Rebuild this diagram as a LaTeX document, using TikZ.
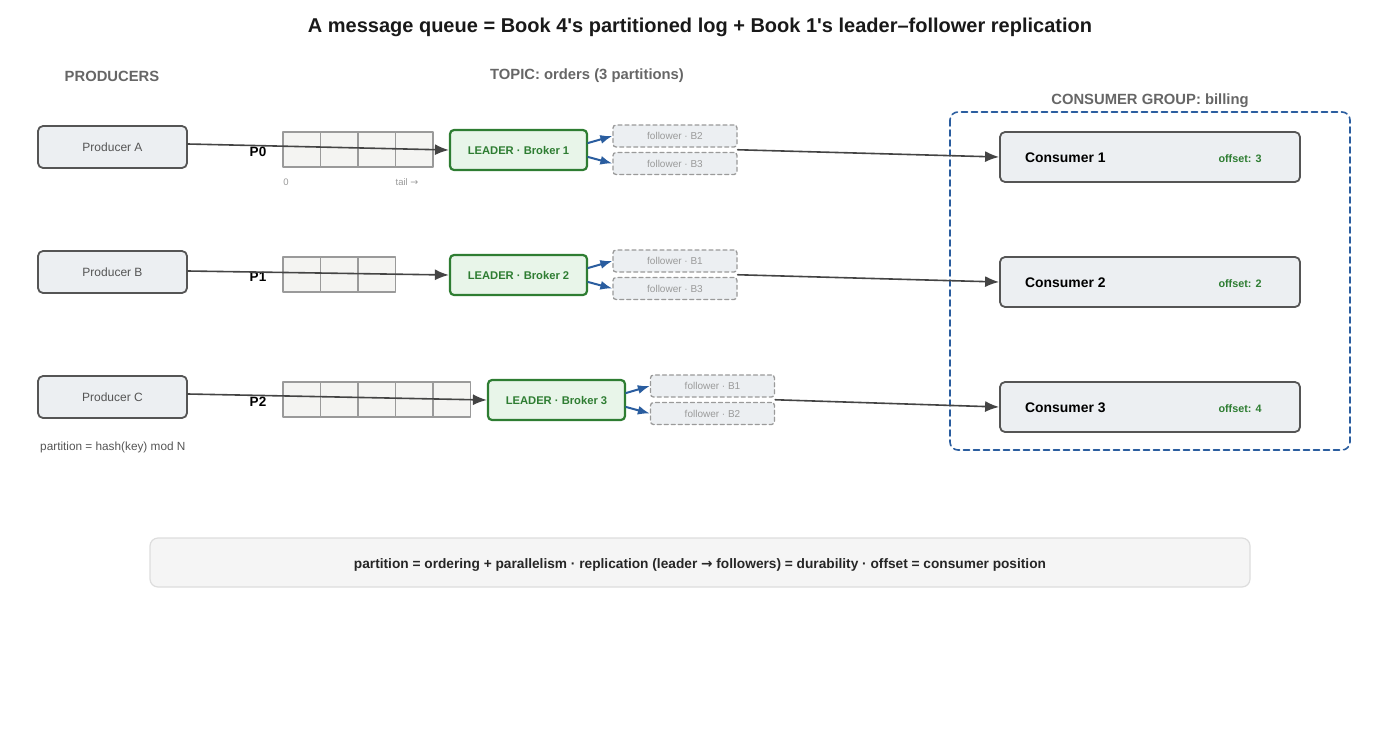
\documentclass[tikz,border=0pt]{standalone}
\usepackage{fontspec}
\setmainfont{Liberation Sans}[Ligatures=TeXOff]
\newfontfamily\symfont{DejaVu Sans}
\newcommand{\rarr}{{\symfont →}}
\usetikzlibrary{arrows.meta,calc}

\definecolor{boxgray}{HTML}{ECEFF2}
\definecolor{edgegray}{HTML}{555555}
\definecolor{labelgray}{HTML}{666666}
\definecolor{faintgray}{HTML}{9A9A9A}
\definecolor{cellfill}{HTML}{F4F4F2}
\definecolor{leadgreen}{HTML}{2E7D32}
\definecolor{leadfill}{HTML}{E8F5E9}
\definecolor{repblue}{HTML}{2A5D9F}
\definecolor{feedgray}{HTML}{444444}
\definecolor{notefill}{HTML}{F5F5F5}
\definecolor{noteedge}{HTML}{DDDDDD}

\begin{document}
\begin{tikzpicture}[x=1pt,y=-1pt,line cap=round,line join=round,
    producer/.style={draw=edgegray,fill=boxgray,rounded corners=5pt,line width=1.8pt,
        minimum width=149pt,minimum height=42pt,inner sep=0pt,text=edgegray,
        font=\fontsize{12}{14}\selectfont},
    leader/.style={draw=leadgreen,fill=leadfill,rounded corners=4pt,line width=2.2pt,
        minimum width=137pt,minimum height=40pt,inner sep=0pt,text=leadgreen,
        font=\fontsize{11.2}{13}\selectfont\bfseries},
    follower/.style={draw=faintgray,fill=boxgray,dash pattern=on 4pt off 3pt,rounded corners=3pt,
        line width=1.3pt,minimum width=124pt,minimum height=22pt,inner sep=0pt,text=faintgray,
        font=\fontsize{10}{12}\selectfont},
    consumer/.style={draw=edgegray,fill=boxgray,rounded corners=5pt,line width=1.8pt,
        minimum width=300pt,minimum height=50pt,inner sep=0pt},
    cell/.style={draw=faintgray,fill=cellfill,line width=1.1pt},
    feed/.style={draw=feedgray,line width=1.6pt,-{Latex[length=14pt,width=11pt]}},
    repl/.style={draw=repblue,line width=2pt,-{Latex[length=12pt,width=9pt]}},
    header/.style={text=labelgray,font=\fontsize{14.8}{17}\selectfont\bfseries},
    plabel/.style={font=\fontsize{13.5}{16}\selectfont\bfseries},
    cname/.style={anchor=west,inner sep=0pt,font=\fontsize{13.9}{16}\selectfont\bfseries},
    offs/.style={text=leadgreen,font=\fontsize{10.8}{13}\selectfont\bfseries}]

    \useasboundingbox (0,0) rectangle (1400,750);

    % Titles
    \node[font=\fontsize{20}{24}\selectfont\bfseries,text=black!90] (title) at (700,27)
        {A message queue = Book 4's partitioned log + Book 1's leader–follower replication};
    \node[header] (hprod) at (112,76) {PRODUCERS};
    \node[header] (htopic) at (587,76) {TOPIC: orders (3 partitions)};
    \node[header] (hgroup) at (1150,101) {CONSUMER GROUP: billing};

    % Consumer group
    \draw[repblue,line width=1.6pt,dash pattern=on 6pt off 4pt,rounded corners=8pt]
        (950,112) rectangle (1350,450);

    % Partition logs
    \foreach \i in {0,...,3} \draw[cell] (283+37.5*\i,132) rectangle +(37.5,35);
    \foreach \i in {0,...,2} \draw[cell] (283+37.5*\i,257) rectangle +(37.5,35);
    \foreach \i in {0,...,4} \draw[cell] (283+37.5*\i,382) rectangle +(37.5,35);
    \node[text=faintgray,font=\fontsize{9.5}{11}\selectfont] (lhead) at (286,182) {0};
    \node[text=faintgray,font=\fontsize{9.5}{11}\selectfont] (ltail) at (407,182) {tail \rarr};
    \node[plabel] (p0) at (258,152) {P0};
    \node[plabel] (p1) at (258,277) {P1};
    \node[plabel] (p2) at (258,402) {P2};

    % Producers
    \node[producer] (pA) at (112.5,147) {Producer A};
    \node[producer] (pB) at (112.5,272) {Producer B};
    \node[producer] (pC) at (112.5,397) {Producer C};
    \node[anchor=west,inner sep=0pt,text=edgegray,font=\fontsize{11.8}{14}\selectfont] (hash) at (40,447)
        {partition = hash(key) mod N};

    % Leaders and followers
    \node[leader] (lead1) at (518.5,150) {LEADER · Broker 1};
    \node[leader] (lead2) at (518.5,275) {LEADER · Broker 2};
    \node[leader] (lead3) at (556.5,400) {LEADER · Broker 3};
    \node[follower] (fol1a) at (675,136) {follower · B2};
    \node[follower] (fol1b) at (675,163.5) {follower · B3};
    \node[follower] (fol2a) at (675,261) {follower · B1};
    \node[follower] (fol2b) at (675,288.5) {follower · B3};
    \node[follower] (fol3a) at (712.5,386) {follower · B1};
    \node[follower] (fol3b) at (712.5,413.5) {follower · B2};

    % Consumers
    \node[consumer] (cons1) at (1150,157) {};
    \node[consumer] (cons2) at (1150,282) {};
    \node[consumer] (cons3) at (1150,407) {};
    \node[cname] (cn1) at (1025,158) {Consumer 1};
    \node[cname] (cn2) at (1025,283) {Consumer 2};
    \node[cname] (cn3) at (1025,408) {Consumer 3};
    \node[offs] (off1) at (1240,159) {offset: 3};
    \node[offs] (off2) at (1240,284) {offset: 2};
    \node[offs] (off3) at (1240,409) {offset: 4};

    % Producer -> leader
    \draw[feed] ($(pA.east)+(0,-3)$) -- (lead1.west);
    \draw[feed] ($(pB.east)+(0,-1)$) -- (lead2.west);
    \draw[feed] ($(pC.east)+(0,-3)$) -- (lead3.west);

    % Replication
    \draw[repl] ($(lead1.east)+(0,-7)$) -- (fol1a.west);
    \draw[repl] ($(lead1.east)+(0,7)$) -- (fol1b.west);
    \draw[repl] ($(lead2.east)+(0,-7)$) -- (fol2a.west);
    \draw[repl] ($(lead2.east)+(0,7)$) -- (fol2b.west);
    \draw[repl] ($(lead3.east)+(0,-7)$) -- (fol3a.west);
    \draw[repl] ($(lead3.east)+(0,7)$) -- (fol3b.west);

    % Partition -> consumer
    \draw[feed] ($(fol1a.east)!0.5!(fol1b.east)$) -- (cons1.west);
    \draw[feed] ($(fol2a.east)!0.5!(fol2b.east)$) -- (cons2.west);
    \draw[feed] ($(fol3a.east)!0.5!(fol3b.east)$) -- (cons3.west);

    % Summary
    \node[draw=noteedge,fill=notefill,rounded corners=8pt,line width=1.2pt,
        minimum width=1100pt,minimum height=49pt,inner sep=0pt,text=black!85,
        font=\fontsize{13.7}{16}\selectfont\bfseries] (summary) at (700,562.5) {};
    \node[text=black!85,font=\fontsize{13.7}{16}\selectfont\bfseries] (sumtext) at (700,565)
        {partition = ordering + parallelism · replication (leader \rarr\ followers) = durability · offset = consumer position};

\end{tikzpicture}
\end{document}
